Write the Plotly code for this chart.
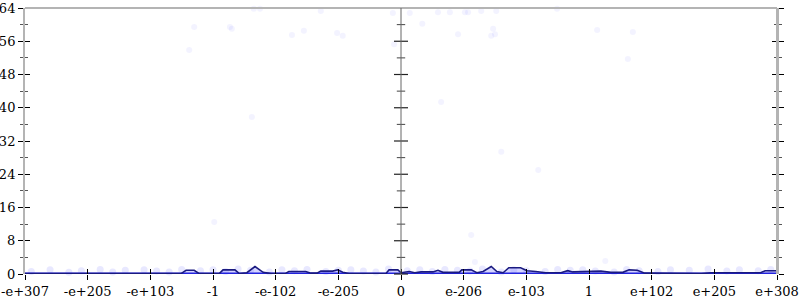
import plotly.graph_objects as go

# x positions are on an ordinal float scale: -6 (-e+307) ... 0 ... 6 (e+308)
tick_vals = [-6, -5, -4, -3, -2, -1, 0, 1, 2, 3, 4, 5, 6]
tick_text = ["-e+307", "-e+205", "-e+103", "-1", "-e-102", "-e-205", "0",
             "e-206", "e-103", "1", "e+102", "e+205", "e+308"]
y_major = [0, 8, 16, 24, 32, 40, 48, 56, 64]
y_minor = [4, 12, 20, 28, 36, 44, 52, 60]

# density-like upper line
line_x = [-6, -4.8, -4.0, -3.51, -3.43, -3.30, -3.22, -2.90, -2.84, -2.65, -2.58, -2.46,
          -2.33, -2.20, -2.07, -1.85, -1.79, -1.52, -1.44, -1.34, -1.28, -1.09, -1.01,
          -0.93, -0.83, -0.24, -0.19, -0.05, 0.0, 0.13, 0.22, 0.32, 0.51, 0.59, 0.67,
          0.93, 0.97, 1.12, 1.21, 1.31, 1.44, 1.53, 1.63, 1.72, 1.91, 2.01, 2.15, 2.31,
          2.55, 2.66, 2.74, 3.03, 3.19, 3.35, 3.54, 3.64, 3.77, 3.89, 4.79, 4.95, 5.74,
          5.81, 6]
line_y = [0.1, 0.1, 0.1, 0.1, 0.9, 0.9, 0.1, 0.1, 1.0, 1.0, 0.1, 0.3,
          1.8, 0.4, 0.1, 0.1, 0.6, 0.6, 0.2, 0.2, 0.7, 0.7, 1.0,
          0.4, 0.1, 0.1, 1.0, 1.0, 0.3, 0.6, 0.3, 0.5, 0.5, 0.9, 0.4,
          0.4, 1.0, 1.0, 0.3, 0.6, 1.8, 0.6, 0.3, 1.5, 1.5, 0.8, 0.6, 0.3,
          0.3, 0.8, 0.5, 0.6, 0.7, 0.4, 0.4, 1.0, 0.9, 0.2, 0.1, 0.3, 0.3,
          0.8, 0.8]
base_x = [-6, 6]
base_y = [0, 0]

# faint sample points
pts_x = [-3.30, -3.38, -2.73, -2.70, -2.35, -2.25, -1.74, -1.55, -1.28, -1.02, -0.93,
         -2.38, -2.98, -0.13, 0.14, 0.59, 0.78, 1.02, 1.07, 1.28, 1.52, 0.34, 0.91,
         1.47, 1.44, 1.50, -0.11, 1.12, 1.18, 3.26, 0.64, 3.13, 3.70, 3.62, 2.19,
         1.60, 2.49]
pts_y = [59.4, 53.9, 59.4, 59.0, 63.8, 63.8, 57.5, 58.5, 63.3, 58.0, 57.3,
         37.8, 12.5, 62.8, 62.8, 63.0, 63.0, 63.0, 63.0, 63.3, 63.3, 60.2, 57.7,
         59.0, 57.3, 57.7, 55.3, 9.4, 2.9, 3.1, 41.4, 58.7, 58.2, 51.7, 25.0,
         29.4, 63.8]
low_x = [-5.9, -5.6, -5.3, -5.1, -4.8, -4.6, -4.4, -4.1, -3.9, -3.7, -3.5, -3.2,
         -3.0, -2.8, -2.6, -2.4, -2.1, -1.9, -1.7, -1.5, -1.2, -1.0, -0.8, -0.6,
         -0.4, -0.2, 0.1, 0.3, 0.5, 0.7, 0.9, 1.1, 1.3, 1.6, 1.8, 2.0, 2.3, 2.5,
         2.7, 2.9, 3.1, 3.4, 3.6, 3.8, 4.1, 4.3, 4.6, 4.9, 5.2, 5.4, 5.7, 5.9]
low_y = [0.6, 1.0, 0.4, 0.8, 1.1, 0.5, 0.9, 1.0, 0.7, 0.5, 1.1, 0.8,
         1.0, 0.6, 1.2, 0.9, 0.5, 1.0, 0.8, 1.1, 0.6, 0.9, 1.0, 0.7,
         0.5, 1.2, 0.8, 1.0, 0.6, 1.1, 0.9, 0.7, 1.2, 0.5, 1.0, 0.8, 0.6, 1.1,
         0.9, 1.0, 0.7, 0.5, 1.1, 0.8, 0.6, 1.0, 0.9, 1.2, 0.7, 1.0, 0.8, 1.1]

fig = go.Figure()
fig.add_trace(go.Scatter(x=pts_x, y=pts_y, mode="markers",
                         marker=dict(size=6, color="rgba(90,90,255,0.07)"),
                         hoverinfo="skip", cliponaxis=False))
fig.add_trace(go.Scatter(x=low_x, y=low_y, mode="markers",
                         marker=dict(size=7, color="rgba(90,90,255,0.14)"),
                         hoverinfo="skip", cliponaxis=False))
fig.add_trace(go.Scatter(x=base_x, y=base_y, mode="lines",
                         line=dict(color="#2222dd", width=3), hoverinfo="skip"))
fig.add_trace(go.Scatter(x=line_x, y=line_y, mode="lines", fill="tonexty",
                         fillcolor="rgba(60,60,255,0.22)",
                         line=dict(color="#1a1a80", width=1.6), hoverinfo="skip"))
# middle (x=0) axis ticks
fig.add_trace(go.Scatter(x=[0] * len(y_major), y=y_major, mode="markers",
                         marker=dict(symbol="line-ew", size=10,
                                     line=dict(color="#222", width=1.2)),
                         hoverinfo="skip", cliponaxis=False))
fig.add_trace(go.Scatter(x=[0] * len(y_minor), y=y_minor, mode="markers",
                         marker=dict(symbol="line-ew", size=6,
                                     line=dict(color="#444", width=1)),
                         hoverinfo="skip", cliponaxis=False))

font = dict(family="DejaVu Serif", size=13, color="#000")
fig.update_layout(
    width=800, height=300, margin=dict(l=25, r=23, t=8, b=26),
    paper_bgcolor="white", plot_bgcolor="white", showlegend=False,
    font=font,
    xaxis=dict(range=[-6, 6], tickvals=tick_vals, ticktext=tick_text,
               ticks="outside", ticklen=5, tickcolor="#000", tickwidth=1,
               showgrid=False, zeroline=False, showline=False, tickfont=font,
               automargin=False),
    xaxis2=dict(range=[-6, 6], overlaying="x", tickvals=tick_vals,
                ticks="inside", ticklen=5, tickcolor="#000", showticklabels=False,
                showgrid=False, zeroline=False, showline=False, side="bottom",
                anchor="y"),
    yaxis=dict(range=[0, 64], tickvals=y_major, ticks="outside", ticklen=5,
               tickcolor="#000", tickwidth=1.2, showgrid=False, zeroline=False,
               showline=True, linecolor="#b4b4b4", linewidth=2, mirror="ticks",
               minor=dict(tickvals=y_minor, ticks="outside", ticklen=3,
                          tickcolor="#555"),
               tickfont=font, automargin=False),
    yaxis2=dict(range=[0, 64], overlaying="y", tickvals=y_major, ticks="inside",
                ticklen=5, tickcolor="#000", tickwidth=1.2, showticklabels=False,
                showgrid=False, zeroline=False, showline=False, mirror="ticks",
                minor=dict(tickvals=y_minor, ticks="inside", ticklen=3,
                           tickcolor="#555"),
                anchor="x", side="left"),
)
# dummy trace to activate overlay axes
fig.add_trace(go.Scatter(x=[None], y=[None], xaxis="x2", yaxis="y2", showlegend=False))
fig.add_shape(type="line", xref="paper", yref="paper", x0=0, x1=1, y0=1, y1=1,
              line=dict(color="#b4b4b4", width=2))
fig.add_shape(type="line", xref="paper", yref="paper", x0=1, x1=1, y0=0, y1=1,
              line=dict(color="#b4b4b4", width=2))
fig.add_shape(type="line", xref="x", yref="paper", x0=0, x1=0, y0=0, y1=1,
              line=dict(color="#666", width=1))
fig.write_html("out.html")
